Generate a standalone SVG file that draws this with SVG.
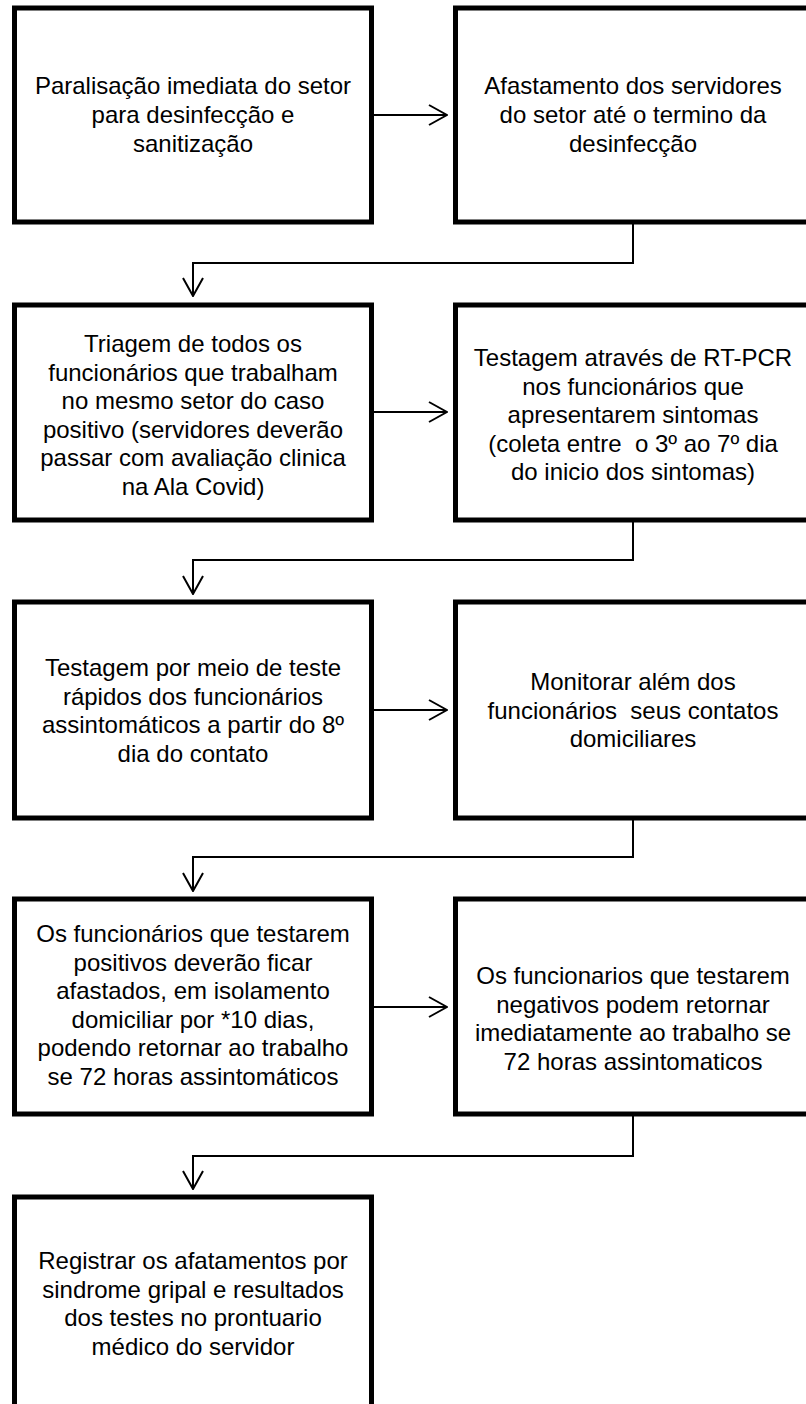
<svg xmlns="http://www.w3.org/2000/svg" width="806" height="1404" viewBox="0 0 806 1404">
<style>
.box{fill:#fff;stroke:#000;stroke-width:5}
.t{font-family:"Liberation Sans",Arial,sans-serif;font-size:24px;fill:#000;text-anchor:middle}
.c{fill:none;stroke:#000;stroke-width:2}
</style>
<defs>
<marker id="ah" viewBox="0 0 20 24" refX="19" refY="12" markerWidth="20" markerHeight="24" markerUnits="userSpaceOnUse" orient="auto">
<polyline points="1,2 19,12 1,22" fill="none" stroke="#000" stroke-width="2"/>
</marker>
</defs>
<rect width="806" height="1404" fill="#fff"/>
<g id="connectors">
<line class="c" x1="374" y1="115" x2="447" y2="115" marker-end="url(#ah)"/>
<polyline class="c" points="633,224 633,263 193,263 193,296" marker-end="url(#ah)"/>
<line class="c" x1="374" y1="412" x2="447" y2="412" marker-end="url(#ah)"/>
<polyline class="c" points="633,522 633,560 193,560 193,594" marker-end="url(#ah)"/>
<line class="c" x1="374" y1="710" x2="447" y2="710" marker-end="url(#ah)"/>
<polyline class="c" points="633,819 633,857 193,857 193,891" marker-end="url(#ah)"/>
<line class="c" x1="374" y1="1007" x2="447" y2="1007" marker-end="url(#ah)"/>
<polyline class="c" points="633,1116 633,1156 193,1156 193,1189" marker-end="url(#ah)"/>
</g>
<g id="n1">
<rect class="box" x="14.5" y="8" width="357" height="214"/>
<text class="t" x="193"><tspan x="193" y="94">Paralisação imediata do setor</tspan><tspan x="193" y="123">para desinfecção e</tspan><tspan x="193" y="151.5">sanitização</tspan></text>
</g>
<g id="n2">
<rect class="box" x="455.5" y="8" width="357" height="214"/>
<text class="t" x="633"><tspan x="633" y="94">Afastamento dos servidores</tspan><tspan x="633" y="123">do setor até o termino da</tspan><tspan x="633" y="151.5">desinfecção</tspan></text>
</g>
<g id="n3">
<rect class="box" x="14.5" y="305" width="357" height="215"/>
<text class="t" x="193"><tspan x="193" y="352">Triagem de todos os</tspan><tspan x="193" y="380.5">funcionários que trabalham</tspan><tspan x="193" y="409">no mesmo setor do caso</tspan><tspan x="193" y="437.5">positivo (servidores deverão</tspan><tspan x="193" y="466">passar com avaliação clinica</tspan><tspan x="193" y="494.5">na Ala Covid)</tspan></text>
</g>
<g id="n4">
<rect class="box" x="455.5" y="305" width="357" height="215"/>
<text class="t" x="633"><tspan x="633" y="366">Testagem através de RT-PCR</tspan><tspan x="633" y="394.5">nos funcionários que</tspan><tspan x="633" y="423">apresentarem sintomas</tspan><tspan x="633" y="451.5" xml:space="preserve">(coleta entre  o 3º ao 7º dia</tspan><tspan x="633" y="480">do inicio dos sintomas)</tspan></text>
</g>
<g id="n5">
<rect class="box" x="14.5" y="602" width="357" height="216"/>
<text class="t" x="193"><tspan x="193" y="676">Testagem por meio de teste</tspan><tspan x="193" y="704.5">rápidos dos funcionários</tspan><tspan x="193" y="733">assintomáticos a partir do 8º</tspan><tspan x="193" y="761.5">dia do contato</tspan></text>
</g>
<g id="n6">
<rect class="box" x="455.5" y="602" width="357" height="216"/>
<text class="t" x="633"><tspan x="633" y="690">Monitorar além dos</tspan><tspan x="633" y="718.5" xml:space="preserve">funcionários  seus contatos</tspan><tspan x="633" y="747">domiciliares</tspan></text>
</g>
<g id="n7">
<rect class="box" x="14.5" y="899" width="357" height="215"/>
<text class="t" x="193"><tspan x="193" y="942">Os funcionários que testarem</tspan><tspan x="193" y="970.5">positivos deverão ficar</tspan><tspan x="193" y="999">afastados, em isolamento</tspan><tspan x="193" y="1027.5">domiciliar por *10 dias,</tspan><tspan x="193" y="1056">podendo retornar ao trabalho</tspan><tspan x="193" y="1084.5">se 72 horas assintomáticos</tspan></text>
</g>
<g id="n8">
<rect class="box" x="455.5" y="899" width="357" height="215"/>
<text class="t" x="633"><tspan x="633" y="984">Os funcionarios que testarem</tspan><tspan x="633" y="1012.5">negativos podem retornar</tspan><tspan x="633" y="1041">imediatamente ao trabalho se</tspan><tspan x="633" y="1069.5">72 horas assintomaticos</tspan></text>
</g>
<g id="n9">
<rect class="box" x="14.5" y="1197" width="357" height="215"/>
<text class="t" x="193"><tspan x="193" y="1269">Registrar os afatamentos por</tspan><tspan x="193" y="1297.5">sindrome gripal e resultados</tspan><tspan x="193" y="1326">dos testes no prontuario</tspan><tspan x="193" y="1354.5">médico do servidor</tspan></text>
</g>
</svg>
